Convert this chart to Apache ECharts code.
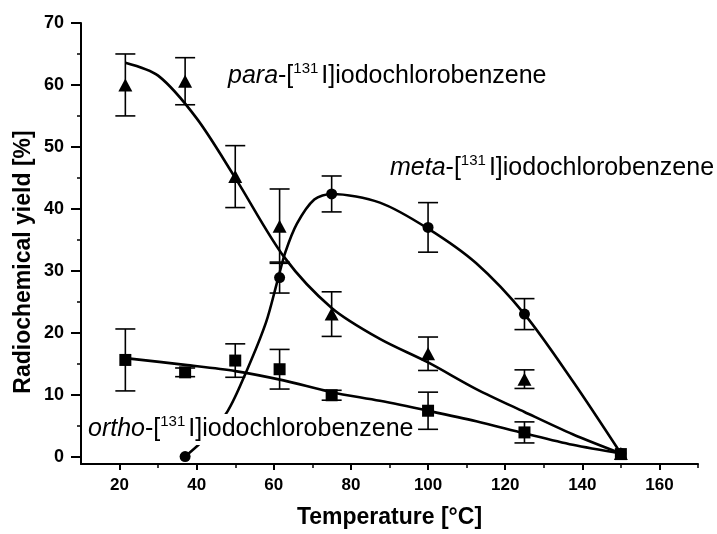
<!DOCTYPE html>
<html>
<head>
<meta charset="utf-8">
<script src="https://cdn.jsdelivr.net/npm/echarts@6/dist/echarts.min.js"></script>
<style>
  html, body { margin: 0; padding: 0; background: #fff; }
  #chart { width: 717px; height: 534px; }
</style>
</head>
<body>
<div id="chart"></div>
<script>
// measured points [temperature, yield, error]
const paraTemps = [21.5, 37, 50, 61.5, 75, 100, 125, 150];
const paraYield = [60.0, 60.6, 45.2, 37.2, 23.0, 16.6, 12.5, 0.5];
const paraError = [5.0, 3.8, 5.0, 6.0, 3.6, 2.7, 1.5, 0];

const metaTemps = [37, 61.5, 75, 100, 125, 150];
const metaYield = [0, 28.9, 42.4, 37.0, 23.0, 0.5];
const metaError = [0, 2.5, 2.9, 4.0, 2.5, 0];

const orthoTemps = [21.5, 37, 50, 61.5, 75, 100, 125, 150];
const orthoYield = [15.6, 13.6, 15.5, 14.1, 9.9, 7.4, 3.9, 0.4];
const orthoError = [5.0, 0.7, 2.7, 3.2, 0.8, 3.0, 1.7, 0];

// fitted curves
const paraFitX = [21.5, 30, 40, 50, 62.7, 75, 87.5, 100, 112.5, 125, 137.5, 150];
const paraFitY = [63.6, 61.5, 54.6, 45.0, 32.2, 24.0, 19.0, 15.2, 10.9, 7.2, 3.6, 0.5];

const metaFitX = [37, 42, 48, 53, 58, 61, 63, 66, 70.5, 75, 87.5, 100, 112.5, 125, 137.5, 150];
const metaFitY = [0, 2.8, 7.3, 13.9, 21.7, 28.5, 33.0, 37.6, 41.5, 42.4, 41.0, 36.8, 31.2, 23.0, 12.2, 0.5];

const orthoFitX = [21.5, 37, 50, 62.5, 75, 87.5, 100, 112.5, 125, 137.5, 150];
const orthoFitY = [15.9, 14.8, 13.8, 12.3, 10.4, 9.0, 7.4, 5.7, 3.75, 1.9, 0.5];

const xMajor = [20, 40, 60, 80, 100, 120, 140, 160];
const xMinor = [30, 50, 70, 90, 110, 130, 150, 170];
const yMajor = [0, 10, 20, 30, 40, 50, 60, 70];
const yMinor = [5, 15, 25, 35, 45, 55, 65];

const FONT = '"Liberation Sans", Arial, sans-serif';
const INK = '#000';

function zip(xs, ys) {
  return xs.map((x, i) => [x, ys[i]]);
}
function withErr(xs, ys, es) {
  return xs.map((x, i) => [x, ys[i], es[i]]).filter(d => d[2] > 0);
}

// error bar drawn with caps
function renderErr(params, api) {
  const x = api.value(0);
  const y = api.value(1);
  const e = api.value(2);
  const top = api.coord([x, y + e]);
  const bot = api.coord([x, y - e]);
  const hw = 10;
  const style = { stroke: INK, lineWidth: 1.6 };
  return {
    type: 'group',
    children: [
      { type: 'line', shape: { x1: top[0], y1: top[1], x2: bot[0], y2: bot[1] }, style },
      { type: 'line', shape: { x1: top[0] - hw, y1: top[1], x2: top[0] + hw, y2: top[1] }, style },
      { type: 'line', shape: { x1: bot[0] - hw, y1: bot[1], x2: bot[0] + hw, y2: bot[1] }, style }
    ]
  };
}

function labelText(prefix) {
  return '{i|' + prefix + '}-[{s|131}I]iodochlorobenzene';
}
const richStyle = {
  i: { fontStyle: 'italic', fontSize: 25, lineHeight: 31, fontFamily: FONT, fill: INK },
  s: { fontSize: 15, lineHeight: 15, fontFamily: FONT, fill: INK, verticalAlign: 'top', padding: [0, 3, 0, 0] }
};

function curve(xs, ys) {
  return {
    type: 'line', data: zip(xs, ys), smooth: 0.3, showSymbol: false,
    lineStyle: { color: INK, width: 2.6 }, z: 2
  };
}

const chart = echarts.init(document.getElementById('chart'));

const option = {
  backgroundColor: '#fff',
  animation: false,
  grid: { left: 81, right: 19, top: 23, bottom: 68 },
  xAxis: [
    {
      type: 'value',
      min: 10,
      max: 170,
      name: 'Temperature [°C]',
      nameLocation: 'middle',
      nameGap: 42,
      nameTextStyle: { fontFamily: FONT, fontWeight: 'bold', fontSize: 23, color: INK },
      axisLine: { show: true, onZero: false, lineStyle: { color: INK, width: 2 } },
      axisTick: { show: true, length: 6, customValues: xMajor, lineStyle: { color: INK, width: 2 } },
      axisLabel: { customValues: xMajor, margin: 13, fontFamily: FONT, fontWeight: 'bold', fontSize: 17, color: INK },
      splitLine: { show: false }
    },
    {
      type: 'value',
      min: 10,
      max: 170,
      position: 'bottom',
      axisLine: { show: false, onZero: false },
      axisTick: { show: true, length: 4, customValues: xMinor, lineStyle: { color: INK, width: 1.5 } },
      axisLabel: { show: false },
      splitLine: { show: false }
    }
  ],
  yAxis: [
    {
      type: 'value',
      min: -1.2,
      max: 70,
      axisLine: { show: true, onZero: false, lineStyle: { color: INK, width: 2 } },
      axisTick: { show: true, length: 10, customValues: yMajor, lineStyle: { color: INK, width: 2 } },
      axisLabel: { customValues: yMajor, margin: 17, fontFamily: FONT, fontWeight: 'bold', fontSize: 18, color: INK },
      splitLine: { show: false }
    },
    {
      type: 'value',
      min: -1.2,
      max: 70,
      position: 'left',
      axisLine: { show: false, onZero: false },
      axisTick: { show: true, length: 4, customValues: yMinor, lineStyle: { color: INK, width: 1.5 } },
      axisLabel: { show: false },
      splitLine: { show: false }
    }
  ],
  series: [
    // fitted curves
    curve(paraFitX, paraFitY),
    curve(metaFitX, metaFitY),
    curve(orthoFitX, orthoFitY),
    // error bars
    { type: 'custom', renderItem: renderErr, data: withErr(paraTemps, paraYield, paraError), z: 3 },
    { type: 'custom', renderItem: renderErr, data: withErr(metaTemps, metaYield, metaError), z: 3 },
    { type: 'custom', renderItem: renderErr, data: withErr(orthoTemps, orthoYield, orthoError), z: 3 },
    // markers
    { type: 'scatter', data: zip(paraTemps, paraYield), symbol: 'triangle', symbolSize: [14, 13], itemStyle: { color: INK, opacity: 1 }, z: 4 },
    { type: 'scatter', data: zip(metaTemps, metaYield), symbol: 'circle', symbolSize: 11, itemStyle: { color: INK, opacity: 1 }, z: 4 },
    { type: 'scatter', data: zip(orthoTemps, orthoYield), symbol: 'rect', symbolSize: 12, itemStyle: { color: INK, opacity: 1 }, z: 4 }
  ],
  graphic: [
    {
      type: 'text', x: 24, y: 262, rotation: Math.PI / 2, z: 100,
      style: { text: 'Radiochemical yield [%]', fontFamily: FONT, fontWeight: 'bold', fontSize: 23, fill: INK, align: 'center', verticalAlign: 'middle' }
    },
    {
      type: 'text', left: 228, top: 61, z: 100,
      style: { text: labelText('para'), rich: richStyle, fontSize: 25, lineHeight: 31, fontFamily: FONT, fill: INK }
    },
    {
      type: 'text', left: 390, top: 153, z: 100,
      style: { text: labelText('meta'), rich: richStyle, fontSize: 25, lineHeight: 31, fontFamily: FONT, fill: INK }
    },
    {
      type: 'text', left: 86, top: 414, z: 100,
      style: { text: labelText('ortho'), rich: richStyle, fontSize: 25, lineHeight: 31, fontFamily: FONT, fill: INK, backgroundColor: '#fff', padding: [0, 2, 0, 2] }
    }
  ]
};

chart.setOption(option);
</script>
</body>
</html>
